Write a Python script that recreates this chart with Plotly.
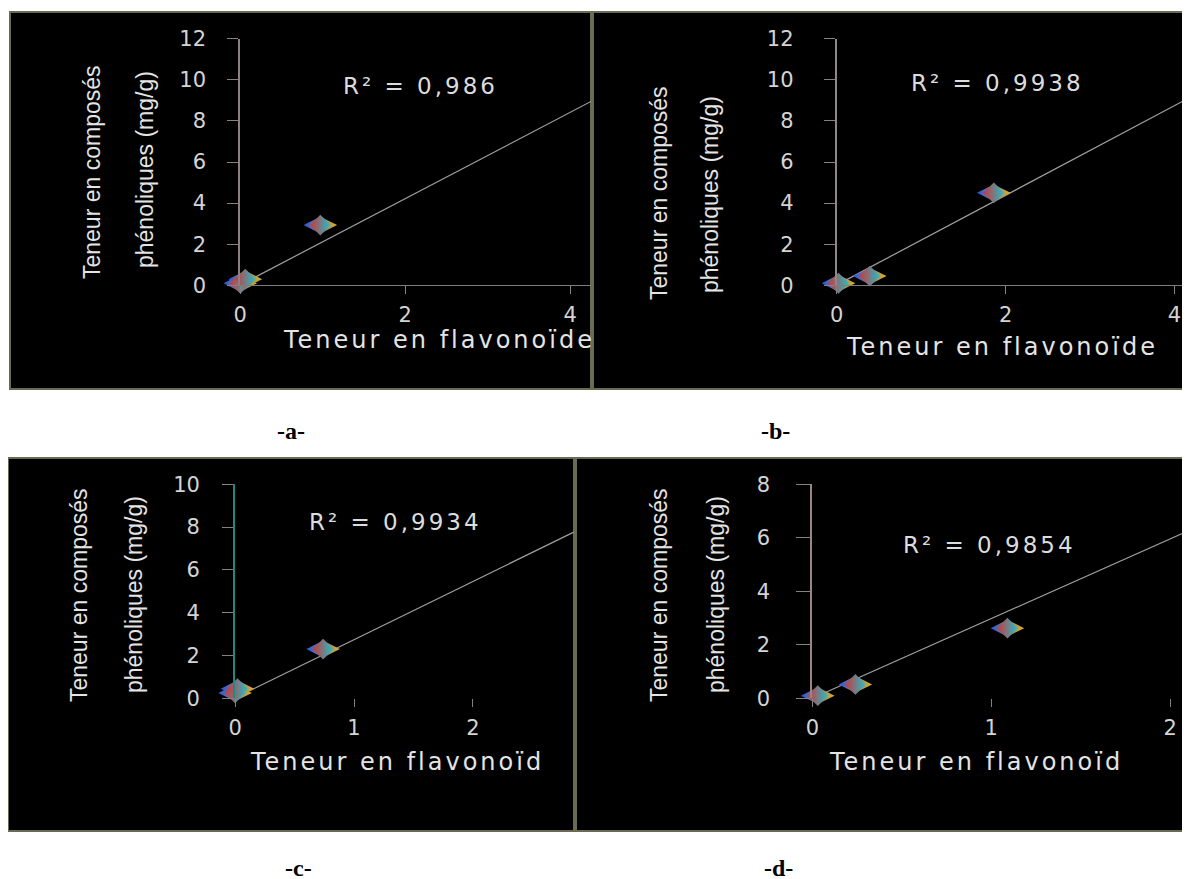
import plotly.graph_objects as go

W, H = 1190, 879
OFF = 8  # the page body adds an 8px margin around the figure

# ---------------- data ----------------
panel_names = ["-a-", "-b-", "-c-", "-d-"]

a_x = [0.0, 0.06, 0.97]
a_y = [0.1, 0.3, 2.93]
b_x = [0.02, 0.39, 1.86]
b_y = [0.1, 0.45, 4.5]
c_x = [0.0, 0.02, 0.74]
c_y = [0.25, 0.45, 2.3]
d_x = [0.03, 0.24, 1.09]
d_y = [0.1, 0.52, 2.62]

# trend lines: slope, intercept
a_trend = [2.10, 0.02]
b_trend = [2.18, 0.02]
c_trend = [2.72, 0.02]
d_trend = [2.98, 0.0]

r2_labels = ["R² = 0,986", "R² = 0,9938", "R² = 0,9934", "R² = 0,9854"]

a_yticks = [0, 2, 4, 6, 8, 10, 12]
b_yticks = [0, 2, 4, 6, 8, 10, 12]
c_yticks = [0, 2, 4, 6, 8, 10]
d_yticks = [0, 2, 4, 6, 8]
a_xticks = [0, 2, 4]
b_xticks = [0, 2, 4]
c_xticks = [0, 1, 2]
d_xticks = [0, 1, 2]

ytitle_line1 = "Teneur en composés"
ytitle_line2 = "phénoliques (mg/g)"
# x titles as far as they are visible inside each panel
xtitles = ["Teneur en flavonoïde", "Teneur en flavonoïde",
           "Teneur en flavonoïd", "Teneur en flavonoïd"]

# ---------------- layout geometry (pixels in the screenshot) ----------------
def fx(x):
    return (x - OFF) / W

def fy(y):
    return 1 - (y - OFF) / H

panels = [
    dict(rect=(10, 12, 591, 389), x0=240.3, xr=591, ppu=82.5, y0=285.3, ytop=38.7,
         ymax=12, xs=a_x, ys=a_y, tr=a_trend, yt=a_yticks, xt=a_xticks,
         ylc="#8c8080", xline=True, ystand=17, ylen=11,
         r2=(420, 86), xt_pos=(281, 340), yl1=(92, 172), yl2=(145, 170)),
    dict(rect=(593, 12, 1200, 389), x0=836.8, xr=1190, ppu=84.4, y0=285.3, ytop=38.7,
         ymax=12, xs=b_x, ys=b_y, tr=b_trend, yt=b_yticks, xt=b_xticks,
         ylc="#908888", xline=True, ystand=26, ylen=11,
         r2=(997, 83), xt_pos=(844, 347), yl1=(659, 193), yl2=(710, 195)),
    dict(rect=(8, 458, 574, 831), x0=235.1, xr=573.8, ppu=118.9, y0=698.3, ytop=484.3,
         ymax=10, xs=c_x, ys=c_y, tr=c_trend, yt=c_yticks, xt=c_xticks,
         ylc="#1f8a80", xline=False, ystand=18, ylen=11,
         r2=(395, 522), xt_pos=(248, 762), yl1=(79, 595), yl2=(134, 595)),
    dict(rect=(576, 458, 1200, 831), x0=812.4, xr=1190, ppu=178.9, y0=698.3, ytop=484.3,
         ymax=8, xs=d_x, ys=d_y, tr=d_trend, yt=d_yticks, xt=d_xticks,
         ylc="#9a8585", xline=False, ystand=22, ylen=14,
         r2=(989, 545), xt_pos=(827, 762), yl1=(659, 595), yl2=(716, 595)),
]
label_pos = [(291, 431), (775, 431), (298, 868), (778, 868)]

TXT = "#dcdcdc"
tickfont = dict(family="DejaVu Sans", size=21, color="#d4d4d4")
ytfont = dict(family="Liberation Sans, Arial, sans-serif", size=23, color="#e4e4e4")


def spaced(s, px):
    return '<span style="letter-spacing:%dpx">%s</span>' % (px, s)


fig = go.Figure()
layout = dict(
    template="none",
    width=W, height=H, autosize=False,
    margin=dict(l=0, r=0, t=0, b=0, pad=0),
    paper_bgcolor="white", plot_bgcolor="rgba(0,0,0,0)",
    showlegend=False, shapes=[], annotations=[],
)

for i, p in enumerate(panels):
    n = "" if i == 0 else str(i + 1)
    xmax = (p["xr"] - p["x0"]) / p["ppu"]
    slope, inter = p["tr"]
    fig.add_trace(go.Scatter(
        x=[0, xmax], y=[inter, inter + slope * xmax], mode="lines",
        line=dict(color="#a0a0a0", width=1.2),
        xaxis="x" + n, yaxis="y" + n, cliponaxis=False, hoverinfo="skip"))
    fig.add_trace(go.Scatter(
        x=p["xs"], y=p["ys"], mode="markers",
        marker=dict(symbol="diamond-wide", size=24, color="#2a55e0",
                    gradient=dict(type="horizontal", color="#e0b020"),
                    line=dict(width=0)),
        xaxis="x" + n, yaxis="y" + n, cliponaxis=False))
    fig.add_trace(go.Scatter(
        x=p["xs"], y=p["ys"], mode="markers",
        marker=dict(symbol="diamond", size=16, color="#d03535",
                    gradient=dict(type="horizontal", color="#20c0d0"),
                    line=dict(width=0)),
        xaxis="x" + n, yaxis="y" + n, cliponaxis=False, hoverinfo="skip"))

    layout["xaxis" + n] = dict(
        domain=[fx(p["x0"]), min(1, fx(p["xr"]))], range=[0, xmax], anchor="y" + n,
        automargin=False,
        showline=p["xline"], linecolor="#7d7d7d", linewidth=1,
        ticks="outside", ticklen=8, tickcolor="#8a8080", tickwidth=1,
        tickvals=p["xt"], ticktext=[str(v) for v in p["xt"]],
        ticklabelstandoff=2, tickfont=tickfont,
        showgrid=False, zeroline=False, fixedrange=True)
    layout["yaxis" + n] = dict(
        domain=[fy(p["y0"]), fy(p["ytop"])], range=[0, p["ymax"]], anchor="x" + n,
        automargin=False,
        showline=True, linecolor=p["ylc"], linewidth=2,
        ticks="outside", ticklen=p["ylen"], tickcolor="#8a8080", tickwidth=1,
        tickvals=p["yt"], ticktext=[str(v) for v in p["yt"]],
        ticklabelstandoff=p["ystand"], tickfont=tickfont,
        showgrid=False, zeroline=False, fixedrange=True)

    x1, y1, x2, y2 = p["rect"]
    layout["shapes"].append(dict(
        type="rect", xref="paper", yref="paper", layer="below",
        x0=fx(x1), x1=fx(x2), y0=fy(y2), y1=fy(y1),
        fillcolor="black", line=dict(color="#6b6b55", width=2)))

    layout["annotations"] += [
        dict(text=spaced(r2_labels[i], 3), xref="paper", yref="paper",
             x=fx(p["r2"][0]), y=fy(p["r2"][1]), showarrow=False,
             xanchor="center", yanchor="middle",
             font=dict(family="DejaVu Sans", size=23, color=TXT)),
        dict(text=spaced(xtitles[i], 3), xref="paper", yref="paper",
             x=fx(p["xt_pos"][0]), y=fy(p["xt_pos"][1]), showarrow=False,
             xanchor="left", yanchor="middle",
             font=dict(family="DejaVu Sans", size=24, color="#e4e4e4")),
        dict(text=ytitle_line1, xref="paper", yref="paper", textangle=-90,
             x=fx(p["yl1"][0]), y=fy(p["yl1"][1]), showarrow=False,
             xanchor="center", yanchor="middle", font=ytfont),
        dict(text=ytitle_line2, xref="paper", yref="paper", textangle=-90,
             x=fx(p["yl2"][0]), y=fy(p["yl2"][1]), showarrow=False,
             xanchor="center", yanchor="middle", font=ytfont),
        dict(text=panel_names[i], xref="paper", yref="paper",
             x=fx(label_pos[i][0]), y=fy(label_pos[i][1]), showarrow=False,
             xanchor="center", yanchor="middle",
             font=dict(family="Liberation Serif", size=24, color="black", weight="bold")),
    ]

fig.update_layout(**layout)
fig.write_html("out.html")
